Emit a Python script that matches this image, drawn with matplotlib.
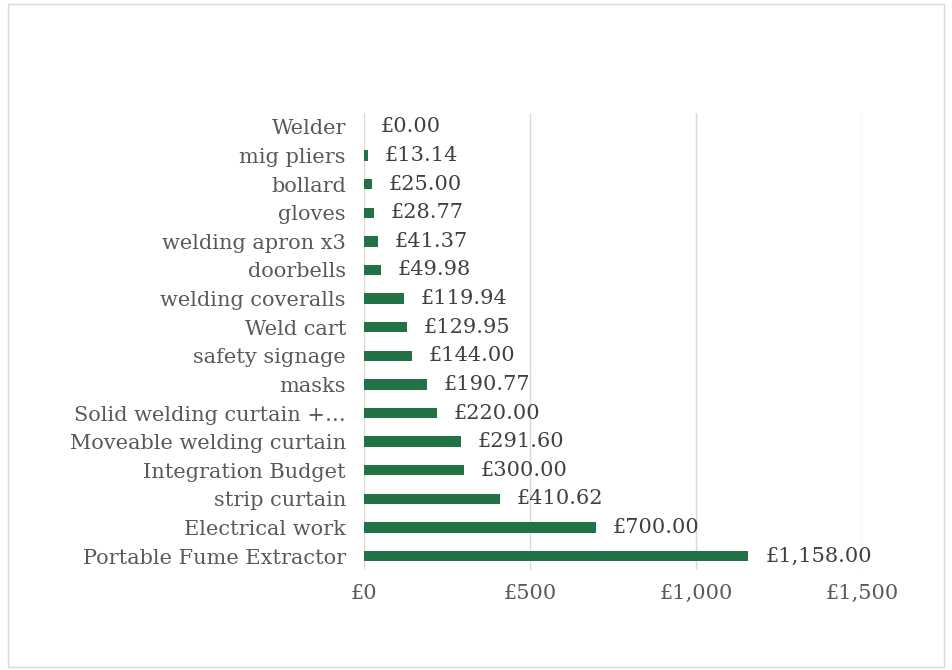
import numpy as np
import matplotlib.pyplot as plt
from matplotlib.patches import Rectangle

items = ['Welder', 'mig pliers', 'bollard', 'gloves', 'welding apron x3', 'doorbells',
         'welding coveralls', 'Weld cart', 'safety signage', 'masks',
         'Solid welding curtain +\u2026', 'Moveable welding curtain', 'Integration Budget',
         'strip curtain', 'Electrical work', 'Portable Fume Extractor']
costs = [0.00, 13.14, 25.00, 28.77, 41.37, 49.98, 119.94, 129.95, 144.00, 190.77,
         220.00, 291.60, 300.00, 410.62, 700.00, 1158.00]
ticks = [0, 500, 1000, 1500]

plt.rcParams['font.family'] = ['DejaVu Serif']

fig = plt.figure(figsize=(9.52, 6.70), dpi=100)
ax = fig.add_axes([0.3824, 0.1488, 0.5231, 0.683])

y = np.arange(len(items))
ax.barh(y, costs, height=0.36, color='#217346', zorder=3)
for yi, c in zip(y, costs):
    ax.annotate('£{:,.2f}'.format(c), (c, yi), xytext=(12, 0), textcoords='offset points',
                va='center', ha='left', fontsize=15, color='#404040')

ax.set_ylim(len(items) - 0.5, -0.5)
ax.set_xlim(0, 1500)
ax.set_yticks(y)
ax.set_yticklabels(items, fontsize=15, color='#595959')
ax.set_xticks(ticks)
ax.set_xticklabels(['£{:,}'.format(t) for t in ticks], fontsize=15, color='#595959')
ax.tick_params(length=0)
ax.tick_params(axis='x', pad=10)
ax.tick_params(axis='y', pad=13)
ax.grid(axis='x', color='#d9d9d9', linewidth=1, zorder=0)
for s in ax.spines.values():
    s.set_visible(False)
ax.axvline(0, color='#d9d9d9', linewidth=1.2, zorder=2)

fig.patches.append(Rectangle((0.008, 0.004), 0.984, 0.99, transform=fig.transFigure,
                             fill=False, edgecolor='#d9d9d9', linewidth=1))

plt.savefig('out.png')
